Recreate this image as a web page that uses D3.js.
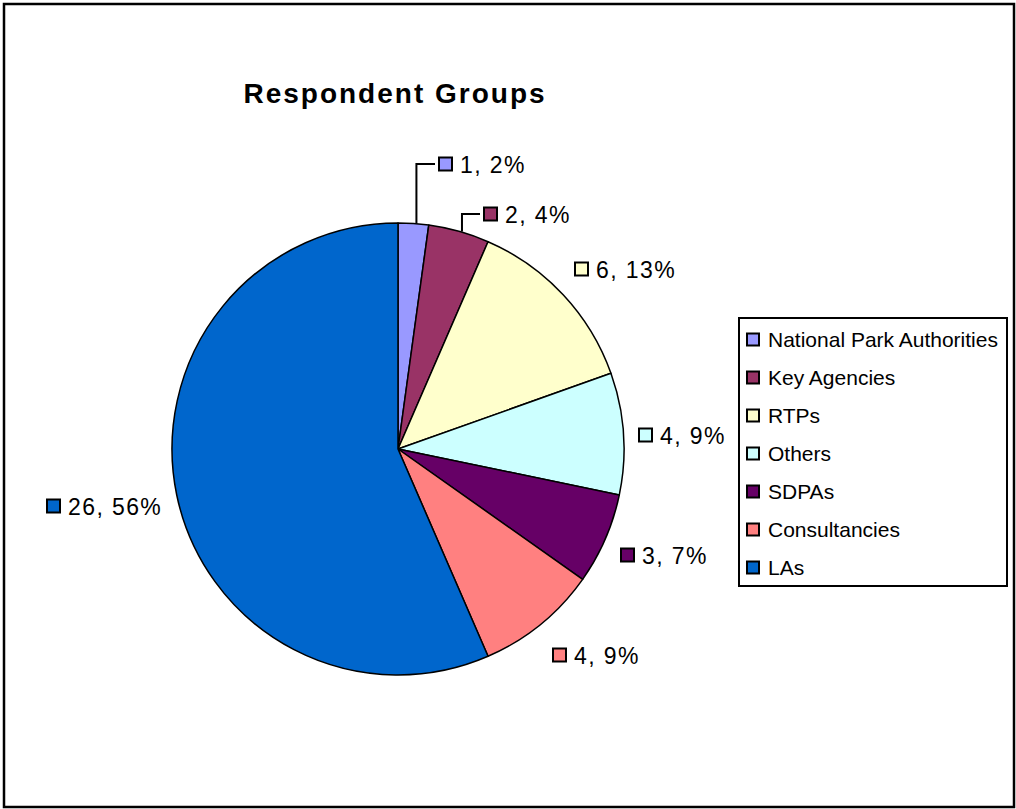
<!DOCTYPE html>
<html>
<head>
<meta charset="utf-8">
<script src="https://cdn.jsdelivr.net/npm/d3@7/dist/d3.min.js"></script>
<style>
  html, body { margin: 0; padding: 0; background: #fff; }
  svg { display: block; font-family: "Liberation Sans", Arial, sans-serif; }
</style>
</head>
<body>
<div id="chart"></div>
<script>
var groups = ['National Park Authorities', 'Key Agencies', 'RTPs', 'Others', 'SDPAs', 'Consultancies', 'LAs'];
var counts = [1, 2, 6, 4, 3, 4, 26];
var percents = [2, 4, 13, 9, 7, 9, 56];
var sliceColors = ['#9999FF', '#993366', '#FFFFCC', '#CCFFFF', '#660066', '#FF8080', '#0066CC'];

// label placement relative to pie centre: swatch left edge, swatch centre y
var labelSpots = [[40, -285], [85, -235], [176, -180], [240, -14], [222, 106], [154, 206], [-352, 57]];
var hasLeader = [true, true, false, false, false, false, false];

var width = 1016, height = 809;
var cx = 398, cy = 449, radius = 226;

var svg = d3.select('#chart').append('svg')
            .attr('width', width)
            .attr('height', height);

svg.append('rect')
   .attr('x', 4).attr('y', 4)
   .attr('width', 1010).attr('height', 803)
   .attr('fill', '#fff')
   .attr('stroke', '#000')
   .attr('stroke-width', 2.5);

svg.append('text')
   .attr('x', 395)
   .attr('y', 103)
   .attr('text-anchor', 'middle')
   .style('font-size', '28px')
   .style('font-weight', 'bold')
   .style('letter-spacing', '2px')
   .text('Respondent Groups');

var data = groups.map(function(g, i) {
  return { name: g, value: counts[i], pct: percents[i], color: sliceColors[i] };
});

var pie = d3.pie().sort(null).value(function(d) { return d.value; });
var arc = d3.arc().innerRadius(0).outerRadius(radius);
var arcs = pie(data);

var g = svg.append('g').attr('transform', 'translate(' + cx + ',' + cy + ')');

g.selectAll('path.slice')
 .data(arcs)
 .enter()
 .append('path')
 .attr('class', 'slice')
 .attr('d', arc)
 .attr('fill', function(d) { return d.data.color; })
 .attr('stroke', '#000')
 .attr('stroke-width', 1.5)
 .attr('stroke-linejoin', 'round');

// data labels
var sw = 13;
var labels = g.selectAll('g.label')
              .data(arcs)
              .enter()
              .append('g')
              .attr('class', 'label');

labels.each(function(d, i) {
  var el = d3.select(this);
  var spot = labelSpots[i];
  if (hasLeader[i]) {
    var mid = (d.startAngle + d.endAngle) / 2;
    var ex = Math.sin(mid) * radius + 3;
    var ey = -Math.cos(mid) * radius;
    el.append('path')
      .attr('d', 'M' + ex + ',' + ey + 'V' + spot[1] + 'H' + (spot[0] - 3))
      .attr('fill', 'none')
      .attr('stroke', '#000')
      .attr('stroke-width', 2);
  }
  el.append('rect')
    .attr('x', spot[0] + 1)
    .attr('y', spot[1] - sw / 2)
    .attr('width', sw)
    .attr('height', sw)
    .attr('fill', d.data.color)
    .attr('stroke', '#000')
    .attr('stroke-width', 2);
  el.append('text')
    .attr('x', spot[0] + 22)
    .attr('y', spot[1] + 8.5)
    .style('font-size', '23px')
    .style('letter-spacing', '1.4px')
    .text(d.data.value + ', ' + d.data.pct + '%');
});

// legend
var legend = svg.append('g').attr('transform', 'translate(739,318)');
legend.append('rect')
      .attr('width', 268)
      .attr('height', 268)
      .attr('fill', '#fff')
      .attr('stroke', '#000')
      .attr('stroke-width', 2);

var rowY = d3.scalePoint().domain(groups).range([21.5, 249.5]);

var items = legend.selectAll('g.item')
                  .data(data)
                  .enter()
                  .append('g')
                  .attr('class', 'item')
                  .attr('transform', function(d) { return 'translate(0,' + rowY(d.name) + ')'; });

items.append('rect')
     .attr('x', 8)
     .attr('y', -6)
     .attr('width', 12)
     .attr('height', 12)
     .attr('fill', function(d) { return d.color; })
     .attr('stroke', '#000')
     .attr('stroke-width', 2);

items.append('text')
     .attr('x', 29)
     .attr('y', 7.5)
     .style('font-size', '21px')
     .text(function(d) { return d.name; });
</script>
</body>
</html>
